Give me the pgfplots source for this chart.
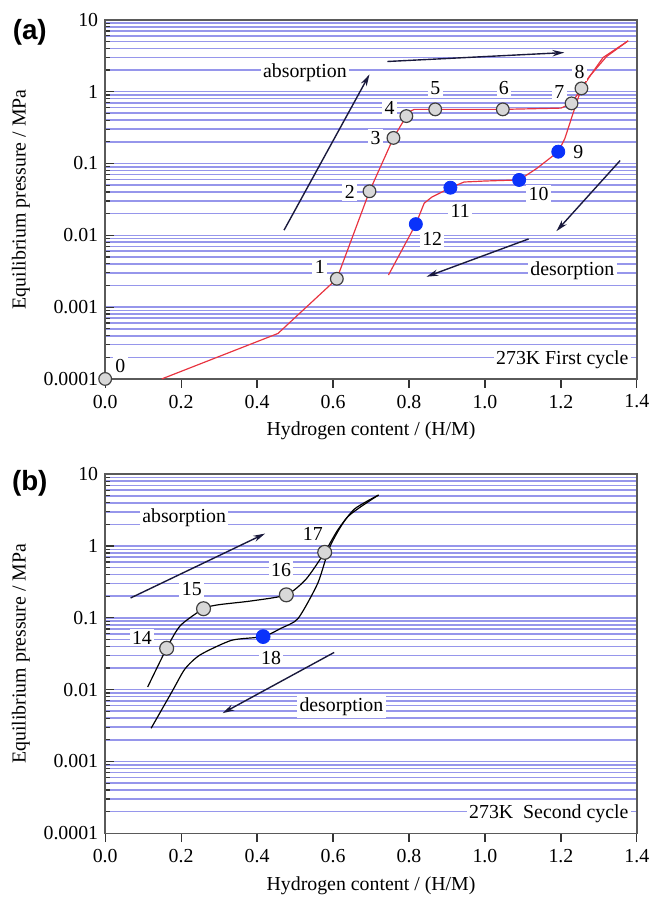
\documentclass[border=0pt]{standalone}
\usepackage{fontspec}
\setmainfont{Liberation Serif}
\newfontfamily\panelfont{Liberation Sans}
\usepackage{pgfplots}
\pgfplotsset{compat=1.18}
\usetikzlibrary{arrows.meta}

\definecolor{gridblue}{RGB}{150,150,235}
\definecolor{redline}{RGB}{232,52,64}
\definecolor{dotblue}{RGB}{10,50,250}
\definecolor{dotgray}{RGB}{216,216,216}
\definecolor{arrowc}{RGB}{25,25,60}
\definecolor{framec}{RGB}{90,90,90}

\tikzset{
  lbl/.style={fill=white, inner sep=1.2pt},
  arr/.style={arrowc, line width=0.7pt, -{Stealth[length=6pt,width=3.2pt]}},
  panel/.style={font=\panelfont\bfseries\fontsize{14}{16}\selectfont},
}

\begin{document}
\begin{tikzpicture}[font=\rmfamily]
\path (-53pt,-259.5pt) rectangle (274.5pt,191pt);

% (a) first cycle
\begin{axis}[name=pa, at={(0,0)}, anchor=south west,
    scale only axis, width=268pt, height=181pt,
    xmin=0, xmax=1.4, ymode=log, ymin=1e-4, ymax=10,
    xtick={0,0.2,0.4,0.6,0.8,1.0,1.2,1.4},
    xticklabels={0.0,0.2,0.4,0.6,0.8,1.0,1.2,1.4},
    ytick={1e-4,1e-3,1e-2,0.1,1,10},
    yticklabels={0.0001,0.001,0.01,0.1,1,10},
    minor ytick={2e-4,3e-4,4e-4,5e-4,6e-4,7e-4,8e-4,9e-4,
                 2e-3,3e-3,4e-3,5e-3,6e-3,7e-3,8e-3,9e-3,
                 0.02,0.03,0.04,0.05,0.06,0.07,0.08,0.09,
                 0.2,0.3,0.4,0.5,0.6,0.7,0.8,0.9,
                 2,3,4,5,6,7,8,9},
    ymajorgrids, yminorgrids,
    major grid style={gridblue, line width=0.8pt},
    minor grid style={gridblue, line width=0.8pt},
    axis line style={framec, line width=0.8pt},
    xtick pos=left, ytick pos=left,
    xtick align=outside, ytick align=inside,
    major tick length=4.5pt, minor tick length=2.5pt,
    tick style={black!80, line width=0.6pt},
    xlabel={Hydrogen content / (H/M)},
    ylabel={Equilibrium pressure / MPa},
    clip=false]
\addplot[redline, line width=0.6pt] coordinates {
  (0.149,1e-4) (0.455,0.00043) (0.61,0.00248) (0.696,0.041) (0.759,0.227)
  (0.793,0.457) (0.805,0.54) (0.814,0.567) (0.87,0.567) (1.05,0.567)
  (1.20,0.59) (1.228,0.687) (1.275,1.63) (1.32,3.08) (1.377,5.1)};
\addplot[redline, line width=0.6pt] coordinates {
  (1.377,5.1) (1.311,2.99) (1.285,1.91) (1.254,1.11) (1.233,0.52)
  (1.21,0.22) (1.193,0.146) (1.136,0.085) (1.09,0.059) (1.0,0.057)
  (0.945,0.0552) (0.909,0.046) (0.86,0.034) (0.84,0.028) (0.818,0.0143)
  (0.746,0.0028)};
\addplot[arr] coordinates {(0.471,0.0118) (0.696,1.74)};
\addplot[arr] coordinates {(0.743,2.63) (1.209,3.5)};
\addplot[arr] coordinates {(1.356,0.11) (1.188,0.0114)};
\addplot[arr] coordinates {(1.115,0.0089) (0.846,0.00265)};
\node[lbl] at (axis cs:0.526,1.85) {absorption};
\node[lbl] at (axis cs:1.23,0.0032) {desorption};
\node[lbl, anchor=east] at (axis cs:1.385,0.000183) {273K First cycle};
\node[lbl] at (axis cs:0.04,0.00015) {0};
\node[lbl] at (axis cs:0.565,0.00367) {1};
\node[lbl] at (axis cs:0.644,0.0402) {2};
\node[lbl] at (axis cs:0.712,0.225) {3};
\node[lbl] at (axis cs:0.749,0.585) {4};
\node[lbl] at (axis cs:0.869,1.107) {5};
\node[lbl] at (axis cs:1.05,1.107) {6};
\node[lbl] at (axis cs:1.196,0.975) {7};
\node[lbl] at (axis cs:1.249,1.905) {8};
\node[lbl] at (axis cs:1.246,0.144) {9};
\node[lbl] at (axis cs:1.141,0.0377) {10};
\node[lbl] at (axis cs:0.935,0.0219) {11};
\node[lbl] at (axis cs:0.861,0.00897) {12};
\addplot[only marks, mark=*, mark size=3.2pt, mark options={fill=dotgray, draw=black!75, line width=0.6pt}] coordinates {
  (0,1e-4) (0.61,0.00248) (0.696,0.041) (0.759,0.227) (0.793,0.457)
  (0.869,0.567) (1.047,0.567) (1.228,0.687) (1.254,1.11)};
\addplot[only marks, mark=*, mark size=3.3pt, mark options={fill=dotblue, draw=dotblue}] coordinates {
  (1.193,0.146) (1.09,0.059) (0.909,0.046) (0.818,0.0143)};
\node[panel, xshift=-38pt, yshift=-6.5pt] at (rel axis cs:0,1) {(a)};
\end{axis}

% (b) second cycle
\begin{axis}[name=pb, at={(0,-229pt)}, anchor=south west,
    scale only axis, width=268pt, height=181pt,
    xmin=0, xmax=1.4, ymode=log, ymin=1e-4, ymax=10,
    xtick={0,0.2,0.4,0.6,0.8,1.0,1.2,1.4},
    xticklabels={0.0,0.2,0.4,0.6,0.8,1.0,1.2,1.4},
    ytick={1e-4,1e-3,1e-2,0.1,1,10},
    yticklabels={0.0001,0.001,0.01,0.1,1,10},
    minor ytick={2e-4,3e-4,4e-4,5e-4,6e-4,7e-4,8e-4,9e-4,
                 2e-3,3e-3,4e-3,5e-3,6e-3,7e-3,8e-3,9e-3,
                 0.02,0.03,0.04,0.05,0.06,0.07,0.08,0.09,
                 0.2,0.3,0.4,0.5,0.6,0.7,0.8,0.9,
                 2,3,4,5,6,7,8,9},
    ymajorgrids, yminorgrids,
    major grid style={gridblue, line width=0.8pt},
    minor grid style={gridblue, line width=0.8pt},
    axis line style={framec, line width=0.8pt},
    xtick pos=left, ytick pos=left,
    xtick align=outside, ytick align=inside,
    major tick length=4.5pt, minor tick length=2.5pt,
    tick style={black!80, line width=0.6pt},
    xlabel={Hydrogen content / (H/M)},
    ylabel={Equilibrium pressure / MPa},
    clip=false]
\addplot[black, line width=0.6pt, smooth, tension=0.4] coordinates {
  (0.112,0.0109) (0.162,0.0377) (0.198,0.078) (0.259,0.134) (0.298,0.152)
  (0.385,0.172) (0.477,0.209) (0.529,0.346) (0.578,0.816) (0.613,1.69)
  (0.657,3.29) (0.72,5.13)};
\addplot[black, line width=0.6pt, smooth, tension=0.4] coordinates {
  (0.72,5.13) (0.639,2.56) (0.592,0.986) (0.56,0.305) (0.508,0.098)
  (0.463,0.0716) (0.416,0.0548) (0.333,0.0487) (0.25,0.0305) (0.21,0.0194)
  (0.178,0.0098) (0.121,0.0029)};
\addplot[arr] coordinates {(0.067,0.189) (0.421,1.49)};
\addplot[arr] coordinates {(0.603,0.033) (0.309,0.0047)};
\node[lbl] at (axis cs:0.208,2.47) {absorption};
\node[lbl] at (axis cs:0.622,0.0058) {desorption};
\node[lbl, anchor=east] at (axis cs:1.385,0.000186) {273K\ \ Second cycle};
\node[lbl] at (axis cs:0.097,0.0533) {14};
\node[lbl] at (axis cs:0.228,0.253) {15};
\node[lbl] at (axis cs:0.463,0.461) {16};
\node[lbl] at (axis cs:0.547,1.49) {17};
\node[lbl] at (axis cs:0.437,0.0274) {18};
\addplot[only marks, mark=*, mark size=3.5pt, mark options={fill=dotgray, draw=black!75, line width=0.6pt}] coordinates {
  (0.162,0.0377) (0.259,0.134) (0.477,0.209) (0.578,0.816)};
\addplot[only marks, mark=*, mark size=3.5pt, mark options={fill=dotblue, draw=dotblue}] coordinates {(0.416,0.0548)};
\node[panel, xshift=-38pt, yshift=-4.5pt] at (rel axis cs:0,1) {(b)};
\end{axis}
\end{tikzpicture}
\end{document}
